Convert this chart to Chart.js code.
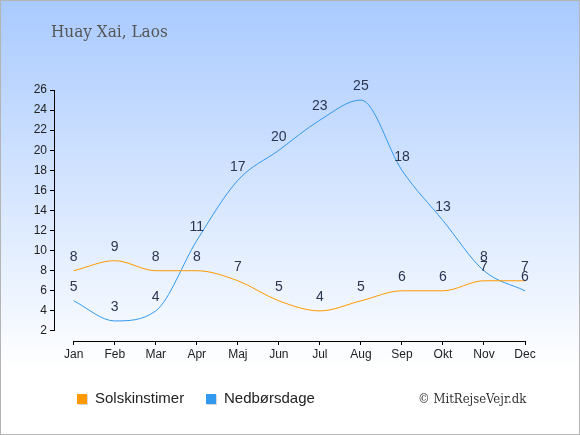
<!DOCTYPE html>
<html>
<head>
<meta charset="utf-8">
<script src="https://cdn.jsdelivr.net/npm/chart.js@4.4.1/dist/chart.umd.min.js"></script>
<style>
  html, body { margin: 0; padding: 0; background: #fff; }
  #wrap { width: 580px; height: 435px; position: relative; }
</style>
</head>
<body>
<div id="wrap"><canvas id="vejrChart" width="580" height="435"></canvas></div>
<script>
// Data
const maaneder = ['Jan', 'Feb', 'Mar', 'Apr', 'Maj', 'Jun', 'Jul', 'Aug', 'Sep', 'Okt', 'Nov', 'Dec'];
const solskin = [8, 9, 8, 8, 7, 5, 4, 5, 6, 6, 7, 7];
const nedboer = [5, 3, 4, 11, 17, 20, 23, 25, 18, 13, 8, 6];
const yTicks = [2, 4, 6, 8, 10, 12, 14, 16, 18, 20, 22, 24, 26];
const titel = 'Huay Xai, Laos';
const kilde = '\u00A9 MitRejseVejr.dk';

const orange = '#ff9900';
const blaa = '#3399ee';
const serif = '"DejaVu Serif Condensed", "DejaVu Serif", serif';

// Baggrund, titel, akser, labels og legend
const tegnPlugin = {
    id: 'tegn',
    beforeDraw(chart) {
        const ctx = chart.ctx;
        const g = ctx.createLinearGradient(0, 0, 0, chart.height);
        g.addColorStop(0, '#a9caff');
        g.addColorStop(0.85, '#ffffff');
        g.addColorStop(1, '#ffffff');
        ctx.save();
        ctx.fillStyle = g;
        ctx.fillRect(0, 0, chart.width, chart.height);
        ctx.strokeStyle = '#b4b4b4';
        ctx.lineWidth = 1;
        ctx.strokeRect(0.5, 0.5, chart.width - 1, chart.height - 1);
        ctx.restore();
    },
    afterDatasetsDraw(chart) {
        const ctx = chart.ctx;
        const x = chart.scales.x, y = chart.scales.y;
        ctx.save();

        // akselinjer
        ctx.strokeStyle = '#000';
        ctx.lineWidth = 1;
        ctx.beginPath();
        const ax = Math.round(chart.chartArea.left) + 0.5;
        ctx.moveTo(ax, y.getPixelForValue(yTicks[yTicks.length - 1]));
        ctx.lineTo(ax, y.getPixelForValue(yTicks[0]));
        const ay = Math.round(chart.chartArea.bottom) + 0.5;
        ctx.moveTo(x.getPixelForValue(0), ay);
        ctx.lineTo(x.getPixelForValue(maaneder.length - 1), ay);
        ctx.stroke();

        // værdier over punkterne
        ctx.font = '14px "Liberation Sans", Arial, sans-serif';
        ctx.fillStyle = '#2a3550';
        ctx.textAlign = 'center';
        ctx.textBaseline = 'middle';
        chart.data.datasets.forEach((ds, i) => {
            const meta = chart.getDatasetMeta(i);
            meta.data.forEach((p, j) => {
                ctx.fillText(String(ds.data[j].y), p.x, p.y - 13.5);
            });
        });

        // titel
        ctx.font = '17px ' + serif;
        ctx.fillStyle = '#555';
        ctx.textAlign = 'left';
        ctx.textBaseline = 'alphabetic';
        ctx.fillText(titel, 51, 37);

        // legend
        ctx.font = '15px "Liberation Sans", Arial, sans-serif';
        ctx.textBaseline = 'middle';
        chart.data.datasets.forEach((ds, i) => {
            const lx = i === 0 ? 77 : 206;
            ctx.fillStyle = 'rgba(0,0,0,0.15)';
            ctx.fillRect(lx + 1, 395, 10, 10);
            ctx.fillStyle = ds.borderColor;
            ctx.fillRect(lx, 394, 10, 10);
            ctx.fillStyle = '#222';
            ctx.fillText(ds.label, lx + 18, 398.5);
        });

        // kilde
        ctx.font = '13px ' + serif;
        ctx.fillStyle = '#333';
        ctx.textBaseline = 'alphabetic';
        ctx.fillText(kilde, 418, 403);
        ctx.restore();
    }
};

function punkter(arr) {
    return arr.map((v, i) => ({ x: i, y: v }));
}

const ctx = document.getElementById('vejrChart').getContext('2d');
const chart = new Chart(ctx, {
    type: 'line',
    data: {
        datasets: [
            { label: 'Solskinstimer', data: punkter(solskin), borderColor: orange, borderWidth: 1, pointRadius: 0, fill: false, cubicInterpolationMode: 'monotone' },
            { label: 'Nedbørsdage', data: punkter(nedboer), borderColor: blaa, borderWidth: 1, pointRadius: 0, fill: false, cubicInterpolationMode: 'monotone' }
        ]
    },
    options: {
        responsive: false,
        animation: false,
        devicePixelRatio: 1,
        layout: { padding: { left: 30, right: 55, top: 90, bottom: 64 } },
        plugins: { legend: { display: false }, tooltip: { enabled: false } },
        scales: {
            x: {
                type: 'linear',
                min: -0.48,
                max: 11,
                afterBuildTicks: s => { s.ticks = maaneder.map((m, i) => ({ value: i })); },
                afterFit: s => { s.height = 30; },
                border: { display: false },
                grid: { drawOnChartArea: false, tickLength: 4, color: '#000' },
                ticks: {
                    padding: 2,
                    color: '#222',
                    font: { family: '"Liberation Sans", Arial, sans-serif', size: 12 },
                    maxRotation: 0,
                    callback: v => maaneder[v]
                }
            },
            y: {
                min: 1,
                max: 26,
                afterBuildTicks: s => { s.ticks = yTicks.map(v => ({ value: v })); },
                afterFit: s => { s.width = 24; },
                border: { display: false },
                grid: { drawOnChartArea: false, tickLength: 4, color: '#000' },
                ticks: {
                    padding: 3,
                    color: '#222',
                    font: { family: '"Liberation Sans", Arial, sans-serif', size: 12 }
                }
            }
        }
    },
    plugins: [tegnPlugin]
});
</script>
</body>
</html>
